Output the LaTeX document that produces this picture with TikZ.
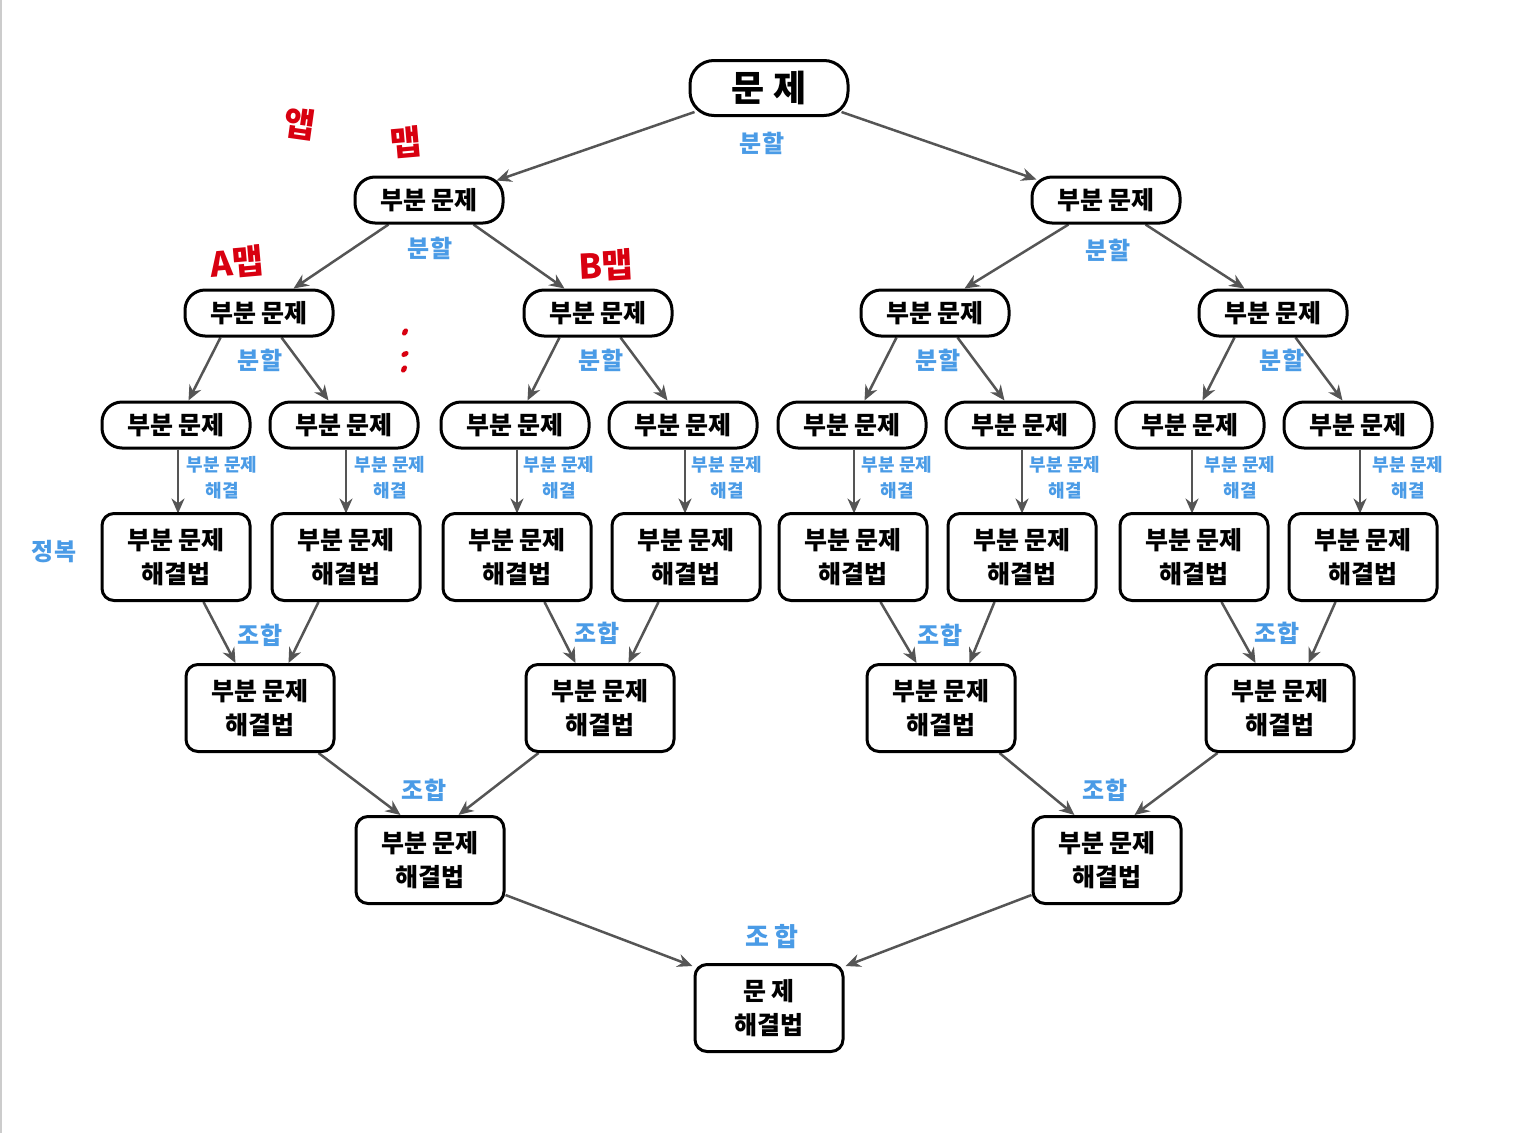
\documentclass[tikz,border=0pt]{standalone}
\usepackage{fontspec}
\setmainfont{Noto Sans CJK KR}
\usetikzlibrary{arrows.meta,calc,backgrounds}
\definecolor{lblue}{HTML}{4A9BE6}
\definecolor{lgray}{HTML}{555555}
\definecolor{hred}{HTML}{D80010}
\tikzset{
  pill/.style={draw=black, fill=white, line width=3pt, rounded corners=20pt,
    minimum width=148pt, minimum height=46pt, inner sep=0pt,
    font=\fontsize{25}{30}\selectfont\bfseries},
  rootbox/.style={pill, minimum width=158pt, minimum height=55pt, rounded corners=24pt,
    font=\fontsize{36}{40}\selectfont\bfseries},
  solbox/.style={draw=black, fill=white, line width=3pt, rounded corners=12pt,
    minimum width=148pt, minimum height=87pt, inner sep=0pt, align=center,
    font=\fontsize{25}{34}\selectfont\bfseries},
  lbl/.style={text=lblue, inner sep=0pt, font=\fontsize{24}{28}\selectfont\bfseries},
  slbl/.style={text=lblue, inner sep=0pt, align=center, font=\fontsize{18}{26}\selectfont\bfseries},
  rlbl/.style={text=hred, inner sep=0pt, font=\fontsize{34}{36}\selectfont\bfseries},
  conn/.style={draw=lgray, line width=2.5pt, -{Stealth[length=15pt,width=13pt]}},
}
\begin{document}
\begin{tikzpicture}[x=1pt,y=-1pt]
\useasboundingbox (0,0) rectangle (1524,1133);
\draw[black!20, line width=2pt] (1,0) -- (1,1133);

% root
\node[rootbox] (root) at (769,88) {문 제};
% level 1
\node[pill] (p1a) at (429,200) {부분 문제};
\node[pill] (p1b) at (1106,200) {부분 문제};
% level 2
\node[pill] (p2a) at (259,313) {부분 문제};
\node[pill] (p2b) at (598,313) {부분 문제};
\node[pill] (p2c) at (935,313) {부분 문제};
\node[pill] (p2d) at (1273,313) {부분 문제};
% level 3
\foreach \n/\x in {a/176,b/344,c/515,d/683,e/852,f/1020,g/1190,h/1358}{
  \node[pill] (p3\n) at (\x,425) {부분 문제};
}
% level 4
\foreach \n/\x in {a/176,b/346,c/517,d/686,e/853,f/1022,g/1194,h/1363}{
  \node[solbox] (s4\n) at (\x,557) {부분 문제\\해결법};
}
% level 5
\node[solbox] (s5a) at (260,708) {부분 문제\\해결법};
\node[solbox] (s5b) at (600,708) {부분 문제\\해결법};
\node[solbox] (s5c) at (941,708) {부분 문제\\해결법};
\node[solbox] (s5d) at (1280,708) {부분 문제\\해결법};
% level 6
\node[solbox] (s6a) at (430,860) {부분 문제\\해결법};
\node[solbox] (s6b) at (1107,860) {부분 문제\\해결법};
% final
\node[solbox] (fin) at (769,1008) {문 제\\해결법};

\begin{pgfonlayer}{background}
% root -> level 1
\draw[conn] ($(root.south west)+(6,-5)$) -- ($(p1a.north east)+(-8,5)$);
\draw[conn] ($(root.south east)+(-8,-5)$) -- ($(p1b.north west)+(6,4)$);
% level 1 -> level 2
\draw[conn] ($(p1a.south west)+(35,0)$) -- ($(p2a.north west)+(110,0)$);
\draw[conn] ($(p1a.south west)+(120,0)$) -- ($(p2b.north west)+(42,0)$);
\draw[conn] ($(p1b.south west)+(38,0)$) -- ($(p2c.north west)+(105,0)$);
\draw[conn] ($(p1b.south west)+(115,0)$) -- ($(p2d.north west)+(47,0)$);
% level 2 -> level 3
\draw[conn] ($(p2a.south west)+(37,0)$) -- ($(p3a.north west)+(88,0)$);
\draw[conn] ($(p2a.south west)+(98,0)$) -- ($(p3b.north west)+(60,0)$);
\draw[conn] ($(p2b.south west)+(37,0)$) -- ($(p3c.north west)+(88,0)$);
\draw[conn] ($(p2b.south west)+(98,0)$) -- ($(p3d.north west)+(60,0)$);
\draw[conn] ($(p2c.south west)+(37,0)$) -- ($(p3e.north west)+(88,0)$);
\draw[conn] ($(p2c.south west)+(98,0)$) -- ($(p3f.north west)+(60,0)$);
\draw[conn] ($(p2d.south west)+(37,0)$) -- ($(p3g.north west)+(88,0)$);
\draw[conn] ($(p2d.south west)+(98,0)$) -- ($(p3h.north west)+(60,0)$);
% level 3 -> level 4
\foreach \n in {a,b,c,d,e,f,g,h}{
  \draw[conn] ($(p3\n.south)+(2,0)$) -- ++(0,64);
}
% level 4 -> level 5
\draw[conn] ($(s4a.south west)+(103,0)$) -- ($(s5a.north west)+(51,0)$);
\draw[conn] ($(s4b.south west)+(48,0)$) -- ($(s5a.north west)+(104,0)$);
\draw[conn] ($(s4c.south west)+(103,0)$) -- ($(s5b.north west)+(51,0)$);
\draw[conn] ($(s4d.south west)+(48,0)$) -- ($(s5b.north west)+(104,0)$);
\draw[conn] ($(s4e.south west)+(103,0)$) -- ($(s5c.north west)+(51,0)$);
\draw[conn] ($(s4f.south west)+(48,0)$) -- ($(s5c.north west)+(104,0)$);
\draw[conn] ($(s4g.south west)+(103,0)$) -- ($(s5d.north west)+(51,0)$);
\draw[conn] ($(s4h.south west)+(48,0)$) -- ($(s5d.north west)+(104,0)$);
% level 5 -> level 6
\draw[conn] ($(s5a.south west)+(134,0)$) -- ($(s6a.north west)+(46,0)$);
\draw[conn] ($(s5b.south west)+(14,0)$) -- ($(s6a.north west)+(104,0)$);
\draw[conn] ($(s5c.south west)+(134,0)$) -- ($(s6b.north west)+(43,0)$);
\draw[conn] ($(s5d.south west)+(13,0)$) -- ($(s6b.north west)+(103,0)$);
% level 6 -> final
\draw[conn] ($(s6a.south east)+(0,-10)$) -- ($(fin.north west)+(-1,3)$);
\draw[conn] ($(s6b.south west)+(0,-10)$) -- ($(fin.north east)+(1,3)$);
\end{pgfonlayer}

% blue labels
\node[lbl] (d0) at (762,143) {분할};
\node[lbl] (d1a) at (430,248) {분할};
\node[lbl] (d1b) at (1108,250) {분할};
\node[lbl] (d2a) at (260,360) {분할};
\node[lbl] (d2b) at (601,360) {분할};
\node[lbl] (d2c) at (938,360) {분할};
\node[lbl] (d2d) at (1282,360) {분할};
\foreach \n/\x in {a/222,b/390,c/559,d/727,e/897,f/1065,g/1240,h/1408}{
  \node[slbl] (h\n) at (\x,478) {부분 문제\\해결};
}
\node[lbl] (c4a) at (260,635) {조합};
\node[lbl] (c4b) at (597,633) {조합};
\node[lbl] (c4c) at (940,635) {조합};
\node[lbl] (c4d) at (1277,633) {조합};
\node[lbl] (c5a) at (424,790) {조합};
\node[lbl] (c5b) at (1105,790) {조합};
\node[lbl, font=\fontsize{26}{30}\selectfont\bfseries] (c6) at (772,937) {조 합};
\node[lbl] (conq) at (54,552) {정복};

% red handwritten notes
\node[rlbl, rotate=-8] (r1) at (300,124) {앱};
\node[rlbl, rotate=5] (r2) at (406,142) {맵};
\node[rlbl, rotate=5] (r3) at (237,262) {A맵};
\node[rlbl, rotate=3] (r4) at (606,265) {B맵};
\fill[hred, rotate around={60:(405,332)}] (405,332) ellipse (4pt and 2.6pt);
\fill[hred, rotate around={30:(405,354)}] (405,354) ellipse (4pt and 2.6pt);
\fill[hred, rotate around={60:(404,369)}] (404,369) ellipse (4pt and 2.6pt);
\end{tikzpicture}
\end{document}
